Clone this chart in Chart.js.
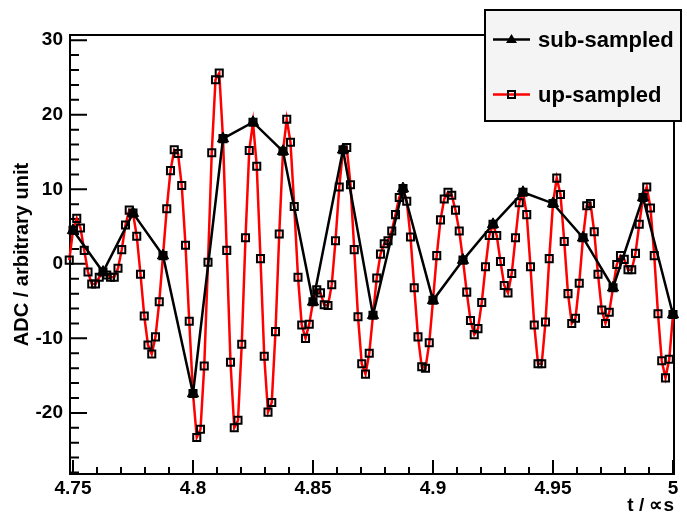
<!DOCTYPE html>
<html>
<head>
<meta charset="utf-8">
<script src="https://cdn.jsdelivr.net/npm/chart.js@4.4.0/dist/chart.umd.min.js"></script>
<style>
  html, body { margin: 0; padding: 0; background: #fff; }
  canvas { display: block; }
</style>
</head>
<body>
<canvas id="adcChart" width="687" height="515"></canvas>
<script>
// sub-sampled ADC samples (one every 12.5 ns)
const subTimes = [4.75, 4.7625, 4.775, 4.7875, 4.8, 4.8125, 4.825, 4.8375, 4.85, 4.8625, 4.875,
    4.8875, 4.9, 4.9125, 4.925, 4.9375, 4.95, 4.9625, 4.975, 4.9875, 5.0];
const subValues = [4.5, -1.1, 6.8, 1.1, -17.4, 16.8, 19.0, 15.1, -5.1, 15.3, -6.9,
    10.1, -4.9, 0.5, 5.3, 9.6, 8.1, 3.5, -3.2, 8.9, -6.8];

// up-sampled signal, 8 points per sub-sample interval
const upStart = 4.7484375;
const upStep = 0.0015625;
const upValues = [0.5,
    4.5, 6.1, 4.8, 1.8, -1.1, -2.7, -2.7, -1.8,
    -1.1, -1.5, -1.8, -1.8, -0.6, 1.9, 5.2, 7.2,
    6.8, 3.7, -1.4, -7.0, -10.9, -12.1, -9.8, -5.1,
    1.1, 7.4, 12.5, 15.3, 14.8, 10.5, 2.5, -7.7,
    -17.4, -23.3, -22.2, -13.7, 0.2, 14.9, 24.7, 25.6,
    16.8, 1.8, -13.2, -22.0, -21.0, -10.8, 3.5, 15.2,
    19.0, 13.1, 0.7, -12.4, -19.9, -18.6, -9.1, 4.0,
    15.1, 19.4, 16.3, 7.7, -1.8, -8.2, -10.0, -8.1,
    -5.1, -3.5, -3.9, -5.5, -5.6, -2.8, 3.1, 10.3,
    15.3, 15.6, 10.6, 1.9, -7.1, -13.4, -14.8, -12.0,
    -6.9, -1.9, 1.3, 2.7, 3.1, 4.4, 6.6, 8.9,
    10.1, 8.4, 3.6, -3.2, -9.8, -13.8, -14.0, -10.6,
    -4.9, 1.1, 5.9, 8.7, 9.6, 9.2, 7.2, 4.4,
    0.5, -3.8, -7.6, -9.5, -8.7, -5.2, -0.4, 3.8,
    5.3, 3.8, 0.3, -2.9, -3.9, -1.3, 3.5, 8.2,
    9.6, 6.6, -0.4, -8.2, -13.4, -13.4, -7.8, 0.7,
    8.1, 11.5, 9.3, 3.0, -4.0, -8.0, -7.3, -2.6,
    3.5, 7.8, 8.1, 4.3, -1.4, -6.2, -8.0, -6.5,
    -3.2, -0.1, 1.1, 0.6, -0.8, -0.8, 1.4, 5.3,
    8.9, 10.3, 7.5, 1.1, -6.7, -13.0, -15.3, -12.8, -6.8];

const xTicks = [4.75, 4.8, 4.85, 4.9, 4.95, 5];
const yTicks = [-20, -10, 0, 10, 20, 30];
const seriesNames = ['sub-sampled', 'up-sampled'];
const xTitle = 't / \u221Ds';
const yTitle = 'ADC / arbitrary unit';

const FONT = '"Liberation Sans", Arial, Helvetica, sans-serif';
Chart.defaults.font.family = FONT;
Chart.defaults.color = '#000';

const subPoints = subTimes.map((t, i) => ({x: t, y: subValues[i]}));
const upPoints = upValues.map((v, k) => ({x: upStart + k * upStep, y: v}));

// ROOT-like frame with inward ticks (minor ones too)
const frameTicks = {
    id: 'frameTicks',
    beforeDatasetsDraw(chart) {
        const {ctx, chartArea: a} = chart;
        const xs = chart.scales.x, ys = chart.scales.y;
        ctx.save();
        ctx.strokeStyle = '#000';
        ctx.lineWidth = 2;
        ctx.strokeRect(a.left, a.top, a.right - a.left, a.bottom - a.top);
        ctx.beginPath();
        for (let v = -28; v <= 30; v += 2) {
            const py = ys.getPixelForValue(v);
            const len = v % 10 === 0 ? 17 : 9;
            ctx.moveTo(a.left, py);
            ctx.lineTo(a.left + len, py);
        }
        for (let n = 475; n <= 500; n++) {
            const px = xs.getPixelForValue(n / 100);
            const len = n % 5 === 0 ? 14 : 7;
            ctx.moveTo(px, a.bottom);
            ctx.lineTo(px, a.bottom - len);
        }
        ctx.stroke();
        ctx.restore();
    }
};

// legend box drawn over the top right corner, like TLegend
const boxLegend = {
    id: 'boxLegend',
    afterDraw(chart) {
        const ctx = chart.ctx;
        ctx.save();
        ctx.fillStyle = '#f4f4f4';
        ctx.fillRect(485, 10, 196, 111);
        ctx.strokeStyle = '#000';
        ctx.lineWidth = 2;
        ctx.strokeRect(485, 10, 196, 111);

        const rows = [
            {name: seriesNames[0], color: '#000', y: 39.5, base: 46.5},
            {name: seriesNames[1], color: '#ff0000', y: 94.5, base: 101.5}
        ];
        rows.forEach((r, i) => {
            ctx.strokeStyle = r.color;
            ctx.lineWidth = 2.5;
            ctx.beginPath();
            ctx.moveTo(493, r.y);
            ctx.lineTo(530, r.y);
            ctx.stroke();
            if (i === 0) {
                ctx.fillStyle = '#000';
                ctx.beginPath();
                ctx.moveTo(511.5, r.y - 5.5);
                ctx.lineTo(517, r.y + 3.5);
                ctx.lineTo(506, r.y + 3.5);
                ctx.closePath();
                ctx.fill();
            } else {
                ctx.strokeStyle = '#000';
                ctx.lineWidth = 2;
                ctx.strokeRect(508, r.y - 3.5, 7, 7);
            }
            ctx.fillStyle = '#000';
            ctx.font = 'bold 22px ' + FONT;
            ctx.textBaseline = 'alphabetic';
            ctx.textAlign = 'left';
            ctx.fillText(r.name, 538, r.base);
        });
        ctx.restore();
    }
};

new Chart(document.getElementById('adcChart'), {
    type: 'line',
    data: {
        datasets: [{
            label: seriesNames[0],
            data: subPoints,
            borderColor: '#000',
            borderWidth: 2.5,
            pointStyle: 'triangle',
            pointRadius: 6.5,
            pointBackgroundColor: '#000',
            pointBorderColor: '#000',
            pointBorderWidth: 1,
            tension: 0,
            clip: false
        }, {
            label: seriesNames[1],
            data: upPoints,
            borderColor: '#ff0000',
            borderWidth: 2.5,
            pointStyle: 'rect',
            pointRadius: 5,
            pointBackgroundColor: 'rgba(0,0,0,0)',
            pointBorderColor: '#000',
            pointBorderWidth: 2,
            tension: 0,
            clip: false
        }]
    },
    options: {
        responsive: false,
        devicePixelRatio: 1,
        animation: false,
        events: [],
        layout: {padding: {top: 35, right: 13, left: 0, bottom: 0}},
        plugins: {legend: {display: false}, tooltip: {enabled: false}},
        scales: {
            x: {
                type: 'linear',
                min: 4.74875,
                max: 5.00042,
                grid: {display: false, drawTicks: false},
                border: {display: false},
                afterBuildTicks: (s) => { s.ticks = xTicks.map(v => ({value: v})); },
                afterFit: (s) => { s.height = 41; },
                ticks: {
                    autoSkip: false,
                    maxRotation: 0,
                    padding: 3,
                    color: '#000',
                    font: {size: 19, weight: 'bold'},
                    callback: (v) => String(Number(v.toFixed(2)))
                },
                title: {
                    display: true,
                    text: xTitle,
                    align: 'end',
                    color: '#000',
                    font: {size: 19, weight: 'bold', lineHeight: 1},
                    padding: 0
                }
            },
            y: {
                min: -28.2,
                max: 30.7,
                grid: {display: false, drawTicks: false},
                border: {display: false},
                afterBuildTicks: (s) => { s.ticks = yTicks.map(v => ({value: v})); },
                afterFit: (s) => { s.width = 70; },
                ticks: {
                    padding: 7,
                    color: '#000',
                    font: {size: 19, weight: 'bold'},
                    callback: (v) => String(v)
                },
                title: {
                    display: true,
                    text: yTitle,
                    color: '#000',
                    font: {size: 20, weight: 'bold'},
                    padding: {top: 10, bottom: 0}
                }
            }
        }
    },
    plugins: [frameTicks, boxLegend]
});
</script>
</body>
</html>
